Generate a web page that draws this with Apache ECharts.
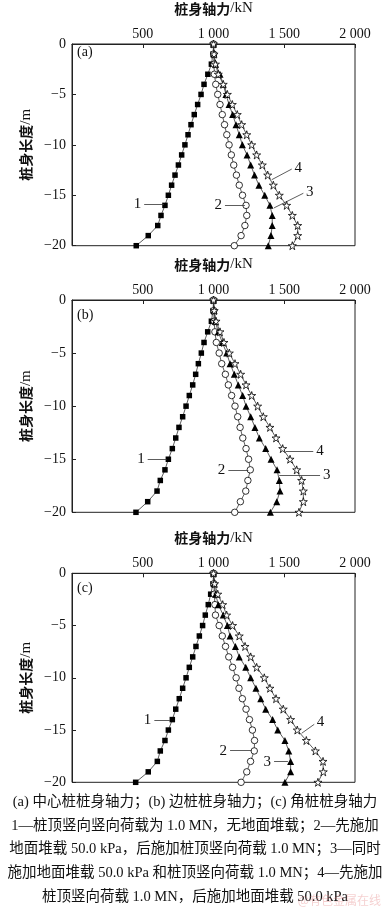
<!DOCTYPE html>
<html><head><meta charset="utf-8">
<script src="https://cdn.jsdelivr.net/npm/echarts@6/dist/echarts.min.js"></script>
<style>html,body{margin:0;padding:0;background:#fff}#c{width:387px;height:915px}</style>
</head><body><div id="c"></div>
<script>
// depth along pile (m)
const depth = [0,-1,-2,-3,-4,-5,-6,-7,-8,-9,-10,-11,-12,-13,-14,-15,-16,-17,-18,-19,-20];
// x tick labels (kN)
const xTickLabels = ['', '500', '1 000', '1 500', '2 000'];
const yTickLabels = {'0':'0','-5':'−5','-10':'−10','-15':'−15','-20':'−20'};
const panelTags = ['(a)', '(b)', '(c)'];
// (a) center pile
const a1 = [1000,997,985,960,933,912,888,864,841,820,798,775,752,728,704,681,657,629,606,539,454];
const a2 = [1000,1001,1004,1006,1016,1030,1046,1062,1078,1094,1110,1126,1143,1162,1182,1205,1230,1235,1222,1195,1147];
const a3 = [1000,1003,1015,1046,1069,1088,1110,1135,1159,1182,1204,1237,1263,1290,1321,1362,1399,1415,1415,1406,1387];
const a4 = [1000,1004,1014,1034,1069,1098,1133,1168,1199,1235,1270,1305,1345,1383,1423,1465,1517,1557,1595,1595,1557];
// (b) side pile
const b1 = [1000,997,985,959,933,914,893,874,853,829,806,782,756,733,709,681,657,624,601,535,452];
const b2 = [1000,1002,1005,1010,1020,1040,1058,1084,1105,1128,1152,1171,1188,1207,1230,1248,1260,1243,1228,1190,1150];
const b3 = [1000,1004,1012,1034,1062,1093,1117,1147,1175,1206,1230,1263,1293,1324,1369,1407,1449,1465,1470,1447,1402];
const b4 = [1000,1005,1018,1046,1074,1112,1152,1192,1230,1270,1312,1352,1399,1442,1489,1541,1588,1623,1635,1635,1604];
// (c) corner pile
const c1 = [1000,997,980,963,942,923,900,876,853,829,806,782,758,733,709,681,657,624,603,539,450];
const c2 = [1000,1003,1006,1010,1014,1040,1062,1085,1108,1135,1160,1180,1204,1230,1254,1275,1290,1288,1262,1235,1195];
const c3 = [1000,1005,1015,1034,1069,1098,1117,1155,1182,1228,1263,1300,1334,1369,1418,1454,1505,1532,1545,1545,1505];
const c4 = [1000,1008,1030,1065,1093,1135,1182,1223,1263,1305,1359,1399,1442,1493,1545,1592,1656,1720,1774,1776,1738];
// curve number call-outs (label, from [kN, m], to [kN, m])
const notesA = [['1',510,-15.9,650,-15.9],['2',1081,-16,1222,-16],['3',1635,-14.8,1428,-16.25],['4',1553,-12.4,1411,-13.46]];
const notesB = [['1',535,-15.02,669,-15.02],['2',1105,-16,1246,-16],['3',1753,-16.53,1465,-16.53],['4',1705,-14.27,1512,-14.27]];
const notesC = [['1',582,-14.04,692,-14.04],['2',1117,-16.98,1270,-16.98],['3',1428,-18.03,1526,-18.03],['4',1712,-14.45,1623,-15.31]];
const caption = [
  '(a) 中心桩桩身轴力；(b) 边桩桩身轴力；(c) 角桩桩身轴力',
  '1—桩顶竖向竖向荷载为 1.0 MN，无地面堆载；2—先施加',
  '地面堆载 50.0 kPa，后施加桩顶竖向荷载 1.0 MN；3—同时',
  '施加地面堆载 50.0 kPa 和桩顶竖向荷载 1.0 MN；4—先施加',
  '桩顶竖向荷载 1.0 MN，后施加地面堆载 50.0 kPa'
];
const watermark = '@有色金属在线';

const SERIF = '"Liberation Serif", "Times New Roman", "Noto Sans CJK SC", serif';
const CJK = '"Noto Sans CJK SC", sans-serif';
const STAR = 'path://M50,2 L61,36 L97,36 L68,57 L79,92 L50,71 L21,92 L32,57 L3,36 L39,36 Z';

const gridTops = [37.7, 300, 573.3];
const gridHeights = [208, 212.3, 209];
const panels = [[a1,a2,a3,a4],[b1,b2,b3,b4],[c1,c2,c3,c4]];
const notes = [notesA, notesB, notesC];

const marker = [
  {symbol:'rect', size:5.5, fill:'#000'},
  {symbol:'circle', size:6.5, fill:'#fff'},
  {symbol:'triangle', size:7, fill:'#000'},
  {symbol:STAR, size:8, fill:'#fff'}
];

const grid = [], xAxis = [], yAxis = [], series = [], graphic = [];
for (let g = 0; g < 3; g++) {
  grid.push({left:72, width:283, top:gridTops[g], height:gridHeights[g], show:true, borderColor:'#222', borderWidth:1, backgroundColor:'transparent'});
  xAxis.push({
    gridIndex:g, type:'value', position:'top', min:0, max:2000, interval:500,
    name:'{b|桩身轴力}{n|/kN}', nameLocation:'middle', nameGap:28,
    nameTextStyle:{rich:{b:{fontFamily:CJK, fontWeight:'bold', fontSize:14, color:'#111'}, n:{fontFamily:SERIF, fontSize:15, color:'#111'}}},
    axisLine:{show:true, lineStyle:{color:'#222', width:1}},
    axisTick:{show:true, inside:true, length:4, lineStyle:{color:'#222'}},
    axisLabel:{fontFamily:SERIF, fontSize:14, color:'#111', margin:3, formatter:v => xTickLabels[Math.round(v/500)]},
    splitLine:{show:false}
  });
  yAxis.push({
    gridIndex:g, type:'value', min:-20, max:0, interval:5,
    name:'{b|桩身长度}{n|/m}', nameLocation:'middle', nameGap:26, nameRotate:90,
    nameTextStyle:{rich:{b:{fontFamily:CJK, fontWeight:'bold', fontSize:14, color:'#111'}, n:{fontFamily:SERIF, fontSize:15, color:'#111'}}},
    axisLine:{show:true, lineStyle:{color:'#222', width:1}},
    axisTick:{show:true, inside:true, length:4, lineStyle:{color:'#222'}},
    axisLabel:{fontFamily:SERIF, fontSize:14, color:'#111', margin:6, formatter:v => yTickLabels[String(v)]},
    splitLine:{show:false}
  });
  panels[g].forEach((vals, k) => {
    const m = marker[k];
    const nt = notes[g].find(n => n[0] === String(k+1));
    series.push({
      type:'line', xAxisIndex:g, yAxisIndex:g, z:3+k,
      data: vals.map((v,i) => [v, depth[i]]),
      symbol:m.symbol, symbolSize:m.size, showAllSymbol:true,
      lineStyle:{color:'#333', width:0.8},
      itemStyle:{color:m.fill, borderColor:'#000', borderWidth: m.fill === '#fff' ? 0.8 : 0},
      emphasis:{disabled:true},
      markLine: nt ? {
        silent:true, symbol:['none','none'], animation:false,
        lineStyle:{color:'#333', width:0.8, type:'solid'},
        label:{show:true, position:'start', distance:3, formatter:nt[0], fontFamily:SERIF, fontSize:15, color:'#111'},
        data:[[{coord:[nt[1], nt[2]]},{coord:[nt[3], nt[4]]}]]
      } : undefined
    });
  });
  graphic.push({type:'text', left:77, top:gridTops[g]+8, style:{text:panelTags[g], fontFamily:SERIF, fontSize:14, fill:'#111'}});
}
const capY = [802, 826, 849, 873, 897];
caption.forEach((t, i) => {
  graphic.push({type:'text', x:195, y:capY[i], style:{text:t, fontFamily:SERIF, fontSize:14.5, fill:'#111', align:'center', verticalAlign:'middle'}});
});
graphic.push({type:'text', x:381, y:900, z:10, style:{text:watermark, fontFamily:CJK, fontSize:12, fill:'rgba(225,120,120,0.35)', align:'right', verticalAlign:'middle'}});

const chart = echarts.init(document.getElementById('c'), null, {renderer:'canvas'});
chart.setOption({animation:false, backgroundColor:'#fff', grid, xAxis, yAxis, series, graphic});
</script>
</body></html>
